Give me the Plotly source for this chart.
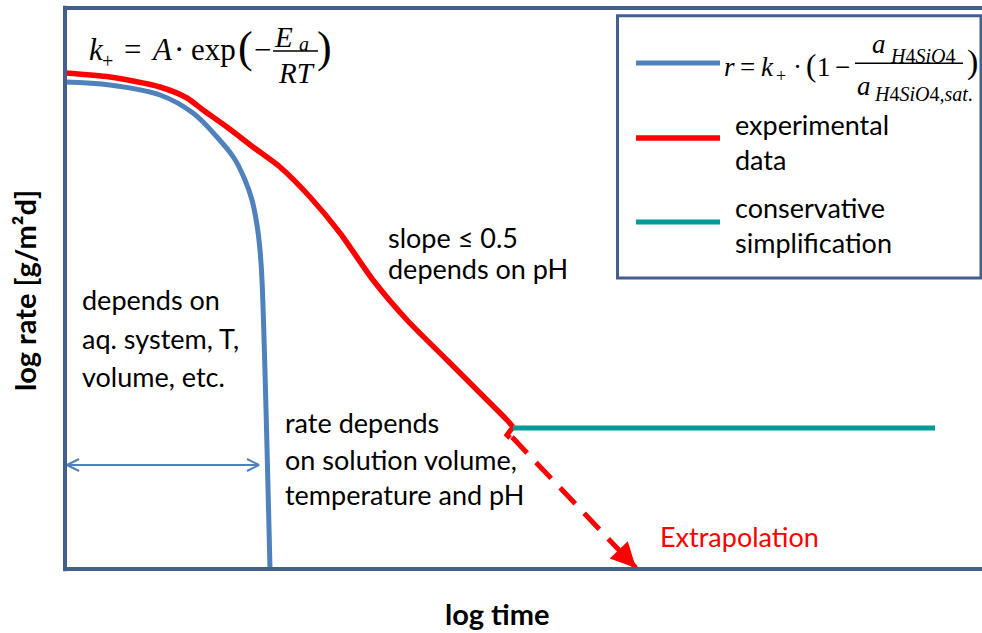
import plotly.graph_objects as go

# Schematic axes in arbitrary log-time / log-rate units
X_MAX, Y_MAX = 917, 561

# Model rate r = k+ (1 - a/a_sat): plateau, then collapse at saturation
model_t = [0, 45, 95, 128, 152, 169, 180, 187, 192, 195, 197, 205]
model_r = [487, 484, 474, 456, 432, 411, 389, 369, 344, 319, 289, 0]

# Experimental data
exp_t = [0, 45, 95, 122, 138, 162, 188, 215, 245, 275, 308, 342, 382, 415, 442, 448]
exp_r = [496, 492, 482, 471, 459, 442, 422, 402, 372, 336, 289, 249, 209, 176, 149, 142]
hook_t = [448, 445, 442, 445]
hook_r = [142, 138, 134, 131]

# Extrapolation of the experimental trend
extra_t = [447, 571]
extra_r = [132, 1]

# Conservative simplification (constant rate)
simp_t = [448, 870]
simp_r = [141, 141]

# Range of the initial regime (double arrow)
span_t = [2, 194]
span_r = 104

FRAME = "#41608c"
BLUE = "#4f81bd"
RED = "#ff0000"
TEAL = "#009b96"
BODY = "Lato"
MATH = "Liberation Serif"

fig = go.Figure()


def line(x, y, color, width, dash="solid", shape="linear", smoothing=0.6):
    fig.add_trace(go.Scatter(x=x, y=y, mode="lines", hoverinfo="skip",
                             line=dict(color=color, width=width, dash=dash,
                                       shape=shape, smoothing=smoothing)))


line(model_t, model_r, BLUE, 5, shape="spline", smoothing=1.0)
line(exp_t, exp_r, RED, 5.5, shape="spline", smoothing=0.7)
line(hook_t, hook_r, RED, 5)
line(extra_t, extra_r, RED, 5, dash="22px,13px")
line(simp_t, simp_r, TEAL, 5)

# double-headed arrow with open chevrons
line(span_t, [span_r, span_r], BLUE, 2)
arm_dx, arm_dy = 12, 6
for tip, sgn in ((span_t[0], 1), (span_t[1], -1)):
    line([tip + sgn * arm_dx, tip, tip + sgn * arm_dx],
         [span_r + arm_dy, span_r, span_r - arm_dy], BLUE, 2)

# legend samples
leg_x = [571, 655]
line(leg_x, [506, 506], BLUE, 5)
line(leg_x, [431, 431], RED, 5.5)
line(leg_x, [347, 347], TEAL, 5)

annotations = []


def text(x, y, s, size=27, color="black", family=BODY, xanchor="left", ref="", **kw):
    annotations.append(dict(x=x, y=y, xref=ref or "x", yref=ref or "y", text=s,
                            showarrow=False, xanchor=xanchor, yanchor="middle",
                            font=dict(family=family, size=size, color=color), **kw))


# arrowhead of the extrapolation
annotations.append(dict(x=extra_t[1], y=extra_r[1], ax=extra_t[1] - 8.3, ay=extra_r[1] + 8.7,
                        xref="x", yref="y", axref="x", ayref="y", text="",
                        showarrow=True, arrowhead=2, arrowsize=1, arrowwidth=5,
                        arrowcolor=RED))

# explanatory labels
text(15, 269.4, "depends on")
text(15, 230.4, "aq. system, T,")
text(15, 192.4, "volume, etc.")
text(321, 331.4, "slope ≤ 0.5")
text(321, 300.4, "depends on pH")
text(218, 146.4, "rate depends")
text(218, 109.4, "on solution volume,")
text(218, 74.4, "temperature and pH")
text(593, 32.4, "Extrapolation", color=RED)

# legend text
text(668, 444.4, "experimental")
text(668, 409.4, "data")
text(668, 361.4, "conservative")
text(668, 326.4, "simplification")

# axis titles
text(0.4716, -0.0799, "<b>log time</b>", size=29, xanchor="center", ref="paper")
text(-0.0449, 0.497, "<b>log rate [g/m²d]</b>", size=29, xanchor="center",
     ref="paper", textangle=-90)

# Arrhenius expression k+ = A·exp(-Ea/RT)
text(31, 519.5, "<i>k</i>", size=31, family=MATH, xanchor="center")
text(42, 507.7, "+", size=20, family=MATH, xanchor="center")
text(67, 519.5, "=", size=31, family=MATH, xanchor="center")
text(97, 519.5, "<i>A</i>", size=31, family=MATH, xanchor="center")
text(114, 519.5, "·", size=31, family=MATH, xanchor="center")
text(148, 519.5, "exp", size=31, family=MATH, xanchor="center")
text(180, 521.6, "(", size=44, family=MATH, xanchor="center")
text(197, 519.5, "−", size=31, family=MATH, xanchor="center")
text(218, 531.8, "<i>E</i>", size=29, family=MATH, xanchor="center")
text(239, 525.4, "<i>a</i>", size=20, family=MATH, xanchor="center")
text(231, 495.8, "<i>RT</i>", size=29, family=MATH, xanchor="center")
text(259, 521.6, ")", size=44, family=MATH, xanchor="center")

# saturation expression r = k+ (1 - a/a_sat)
text(664, 502.1, "<i>r</i>", size=27, family=MATH, xanchor="center")
text(682, 502.1, "=", size=27, family=MATH, xanchor="center")
text(702, 502.1, "<i>k</i>", size=27, family=MATH, xanchor="center")
text(716, 493.5, "+", size=18, family=MATH, xanchor="center")
text(732, 502.1, "·", size=27, family=MATH, xanchor="center")
text(746, 503.5, "(", size=31, family=MATH, xanchor="center")
text(759, 502.1, "1", size=27, family=MATH, xanchor="center")
text(777, 502.1, "−", size=27, family=MATH, xanchor="center")
text(814, 525.1, "<i>a</i>", size=27, family=MATH, xanchor="center")
text(823, 513.1, "<i>H</i>4<i>SiO</i>4", size=20, family=MATH)
text(799, 483.1, "<i>a</i>", size=27, family=MATH, xanchor="center")
text(807, 475.1, "<i>H</i>4<i>SiO</i>4<i>,sat</i>.", size=20, family=MATH)
text(907, 507, ")", size=34, family=MATH, xanchor="center")

shapes = [
    # plot frame (open on the right)
    dict(type="line", xref="paper", yref="paper", x0=0, x1=0, y0=-0.004, y1=1.004,
         line=dict(color=FRAME, width=4)),
    dict(type="line", xref="paper", yref="paper", x0=0, x1=1, y0=0, y1=0,
         line=dict(color=FRAME, width=4)),
    dict(type="line", xref="paper", yref="paper", x0=0, x1=1, y0=1, y1=1,
         line=dict(color=FRAME, width=4)),
    # legend box
    dict(type="rect", xref="x", yref="y", x0=552.5, x1=916, y0=291, y1=553.3,
         line=dict(color=FRAME, width=3)),
    # fraction bars
    dict(type="line", xref="x", yref="y", x0=208, x1=253, y0=518, y1=518,
         line=dict(color="black", width=1.5)),
    dict(type="line", xref="x", yref="y", x0=790, x1=898, y0=505.7, y1=505.7,
         line=dict(color="black", width=1.5)),
]

fig.update_layout(
    width=982, height=633,
    margin=dict(l=65, r=0, t=8, b=64),
    paper_bgcolor="white", plot_bgcolor="white",
    showlegend=False,
    xaxis=dict(range=[0, X_MAX], visible=False, fixedrange=True),
    yaxis=dict(range=[0, Y_MAX], visible=False, fixedrange=True),
    annotations=annotations,
    shapes=shapes,
)

fig.write_html("out.html")
